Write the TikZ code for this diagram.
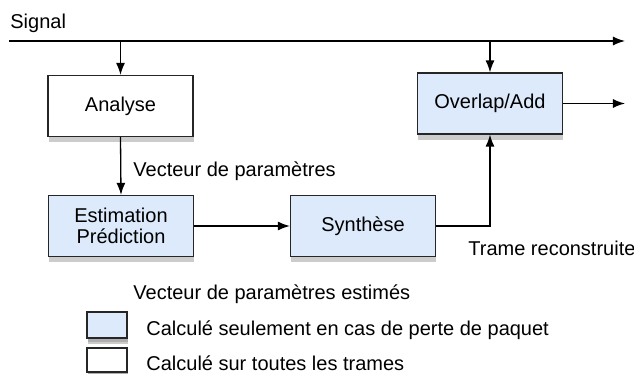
\documentclass[tikz,border=0pt]{standalone}
\usepackage{fontspec}
\setmainfont{Liberation Sans}
\usetikzlibrary{arrows.meta,shadows}
\definecolor{bleuclair}{RGB}{221,234,251}
\begin{document}
\begin{tikzpicture}[x=0.5pt, y=-0.5pt, font=\fontsize{10}{10.2}\selectfont,
    bloc/.style={draw=black!85, line width=0.6pt, fill=white, minimum width=72.5pt,
        minimum height=30.5pt, inner sep=0pt, align=center,
        drop shadow={opacity=0.4, shadow xshift=0.5pt, shadow yshift=-3pt}},
    blocbleu/.style={bloc, fill=bleuclair},
    fleche/.style={-{Latex[length=6pt, width=4.5pt]}, line width=0.65pt}]
    \useasboundingbox (0,0) rectangle (634,374);

    % signal line
    \coordinate (sigL) at (9,41);
    \coordinate (sigR) at (625,41);
    \node[anchor=base west, inner sep=0pt] (signal) at (10,29) {Signal};
    \draw[fleche] (sigL) -- (sigR);

    % blocks
    \node[bloc] (analyse) at (120.5,106) {Analyse};
    \node[blocbleu] (overlap) at (490,103.5) {Overlap/Add};
    \node[blocbleu] (estim) at (121,226) {Estimation\\Prédiction};
    \node[blocbleu] (synth) at (363,226) {Synthèse};

    % connections
    \draw[fleche] (analyse.north |- sigL) -- (analyse.north);
    \draw[fleche] (overlap.north |- sigL) -- (overlap.north);
    \coordinate (sortie) at (625,103.5);
    \draw[fleche] (overlap.east) -- (sortie);
    \draw[fleche] (analyse.south) -- (estim.north);
    \draw[fleche] (estim.east) -- (synth.west);
    \draw[fleche] (synth.east) -| (overlap.south);

    % labels
    \node[anchor=base west, inner sep=0pt] (vecteur) at (133,177) {Vecteur de paramètres};
    \node[anchor=base west, inner sep=0pt] (trame) at (468,256) {Trame reconstruite};
    \node[anchor=base west, inner sep=0pt] (vecest) at (133,300) {Vecteur de paramètres estimés};

    % legend
    \node[blocbleu, minimum width=20pt, minimum height=13pt, drop shadow={opacity=0.4, shadow xshift=0.5pt, shadow yshift=-2pt}] (legbleu) at (107,325) {};
    \node[bloc, minimum width=20pt, minimum height=12pt, drop shadow={opacity=0.4, shadow xshift=0.5pt, shadow yshift=-2pt}] (legblanc) at (107,360) {};
    \node[anchor=base west, inner sep=0pt] (txtbleu) at (146,336) {Calculé seulement en cas de perte de paquet};
    \node[anchor=base west, inner sep=0pt] (txtblanc) at (146,371) {Calculé sur toutes les trames};
\end{tikzpicture}
\end{document}
